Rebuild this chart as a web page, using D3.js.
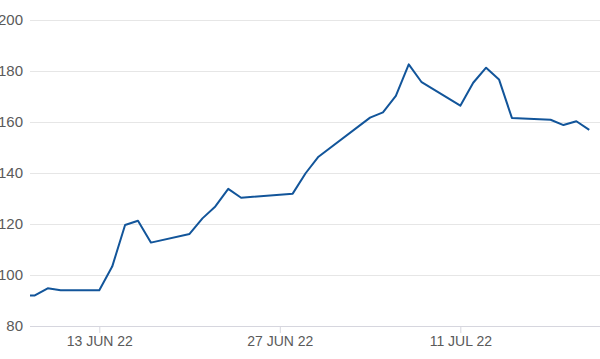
<!DOCTYPE html>
<html>
<head>
<meta charset="utf-8">
<script src="https://cdn.jsdelivr.net/npm/d3@7"></script>
<style>
  body { margin: 0; background: #fff; }
  svg { display: block; font-family: "Liberation Sans", Arial, sans-serif; }
</style>
</head>
<body>
<div id="chart"></div>
<script>
// daily closes
var dates = ["2022-06-07","2022-06-08","2022-06-09","2022-06-10","2022-06-13","2022-06-14",
  "2022-06-15","2022-06-16","2022-06-17","2022-06-20","2022-06-21","2022-06-22","2022-06-23",
  "2022-06-24","2022-06-28","2022-06-29","2022-06-30","2022-07-04","2022-07-05","2022-07-06",
  "2022-07-07","2022-07-08","2022-07-11","2022-07-12","2022-07-13","2022-07-14","2022-07-15",
  "2022-07-18","2022-07-19","2022-07-20","2022-07-21"]
var values = [92, 92, 94.8, 94, 94, 103.3,
  119.6, 121.3, 112.7, 116.1, 122.2, 126.9, 133.8,
  130.3, 131.9, 139.9, 146.4, 161.7, 163.8, 170.2,
  182.6, 175.6, 166.4, 175.4, 181.3, 176.7, 161.6,
  160.9, 158.8, 160.3, 156.9]
var yTicks = [80, 100, 120, 140, 160, 180, 200]
var xTicks = ["2022-06-13", "2022-06-27", "2022-07-11"]

var width = 600, height = 359
var margin = {left: 30, right: 600, top: 20, bottom: 326}

var parse = d3.timeParse("%Y-%m-%d")
var data = dates.map(function(d, i) { return {date: parse(d), value: values[i]} })

var svg = d3.select("#chart").append("svg")
  .attr("width", width)
  .attr("height", height)

var x = d3.scaleTime()
  .domain([new Date(2022, 5, 7, 15), new Date(2022, 6, 21, 20)])
  .range([margin.left, margin.right])

var y = d3.scaleLinear()
  .domain([80, 200])
  .range([margin.bottom, margin.top])

// gridlines + y labels
svg.append("g")
  .attr("transform", "translate(" + margin.left + ",0)")
  .call(d3.axisLeft(y).tickValues(yTicks).tickSize(-(margin.right - margin.left)).tickPadding(7))
  .call(function(g) {
    g.select(".domain").remove()
    g.selectAll(".tick line").attr("stroke", function(d) { return d == 80 ? "#d6d6de" : "#e6e6e6" })
    g.selectAll(".tick text").attr("fill", "#5a5a5a").style("font-size", "15px")
  })

// x axis
svg.append("g")
  .attr("transform", "translate(0," + margin.bottom + ")")
  .call(d3.axisBottom(x).tickValues(xTicks.map(parse)).tickSize(7).tickPadding(3)
    .tickFormat(function(d) { return d3.timeFormat("%d %b %y")(d).toUpperCase() }))
  .call(function(g) {
    g.select(".domain").remove()
    g.selectAll(".tick line").attr("stroke", "#d6d6de")
    g.selectAll(".tick text").attr("fill", "#5a5a5a").style("font-size", "14px")
  })

svg.append("clipPath").attr("id", "clip")
  .append("rect")
  .attr("x", margin.left).attr("y", 0)
  .attr("width", margin.right - margin.left).attr("height", height)

var line = d3.line()
  .x(function(d) { return x(d.date) })
  .y(function(d) { return y(d.value) })

svg.append("path")
  .datum(data)
  .attr("clip-path", "url(#clip)")
  .attr("fill", "none")
  .attr("stroke", "#12559a")
  .attr("stroke-width", 2)
  .attr("stroke-linejoin", "round")
  .attr("d", line)
</script>
</body>
</html>
